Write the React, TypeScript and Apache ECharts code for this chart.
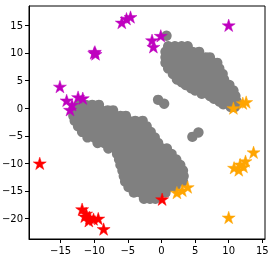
import React, { useEffect, useRef } from "react";
import * as echarts from "echarts";

// Gray embedding cloud (hand-read sample of the dense clusters)
const grayClusterA: [number, number][] = [
  [-12.3, 0.6], [-11.3, 0.6], [-10.3, 0.6], [-9.3, 0.6],
  [-13.0, -0.4], [-12.0, -0.4], [-11.0, -0.4], [-10.0, -0.4], [-9.0, -0.4], [-8.0, -0.4], [-7.2, -0.4],
  [-13.1, -1.4], [-12.1, -1.4], [-11.1, -1.4], [-10.1, -1.4], [-9.1, -1.4], [-8.1, -1.4], [-7.1, -1.4], [-6.1, -1.4], [-5.3, -1.4],
  [-12.9, -2.3], [-11.9, -2.3], [-10.9, -2.3], [-9.9, -2.3], [-8.9, -2.3], [-7.9, -2.3], [-6.9, -2.3], [-5.9, -2.3], [-4.9, -2.3], [-3.9, -2.3], [-2.8, -2.3],
  [-12.4, -3.3], [-11.4, -3.3], [-10.4, -3.3], [-9.4, -3.3], [-8.4, -3.3], [-7.4, -3.3], [-6.4, -3.3], [-5.4, -3.3], [-4.4, -3.3], [-3.4, -3.3], [-2.2, -3.3],
  [-11.8, -4.3], [-10.8, -4.3], [-9.8, -4.3], [-8.8, -4.3], [-7.8, -4.3], [-6.8, -4.3], [-5.8, -4.3], [-4.8, -4.3], [-3.8, -4.3], [-2.8, -4.3], [-1.6, -4.3],
  [-11.0, -5.3], [-10.0, -5.3], [-9.0, -5.3], [-8.0, -5.3], [-7.0, -5.3], [-6.0, -5.3], [-5.0, -5.3], [-4.0, -5.3], [-3.0, -5.3], [-2.0, -5.3], [-1.0, -5.3],
  [-9.5, -6.3], [-8.5, -6.3], [-7.5, -6.3], [-6.5, -6.3], [-5.5, -6.3], [-4.5, -6.3], [-3.5, -6.3], [-2.5, -6.3], [-1.5, -6.3], [-0.5, -6.3],
  [-7.9, -7.3], [-6.9, -7.3], [-5.9, -7.3], [-4.9, -7.3], [-3.9, -7.3], [-2.9, -7.3], [-1.9, -7.3], [-0.9, -7.3], [0.1, -7.3], [0.8, -7.3],
  [-6.6, -8.3], [-5.6, -8.3], [-4.6, -8.3], [-3.6, -8.3], [-2.6, -8.3], [-1.6, -8.3], [-0.6, -8.3], [0.4, -8.3], [1.5, -8.3],
  [-6.3, -9.3], [-5.3, -9.3], [-4.3, -9.3], [-3.3, -9.3], [-2.3, -9.3], [-1.3, -9.3], [-0.3, -9.3], [0.7, -9.3], [1.6, -9.3], [2.2, -9.3],
  [-6.1, -10.3], [-5.1, -10.3], [-4.1, -10.3], [-3.1, -10.3], [-2.1, -10.3], [-1.1, -10.3], [-0.1, -10.3], [0.9, -10.3], [1.9, -10.3], [2.8, -10.3],
  [-5.8, -11.3], [-4.8, -11.3], [-3.8, -11.3], [-2.8, -11.3], [-1.8, -11.3], [-0.8, -11.3], [0.2, -11.3], [1.2, -11.3], [2.2, -11.3], [3.2, -11.3],
  [-5.6, -12.3], [-4.6, -12.3], [-3.6, -12.3], [-2.6, -12.3], [-1.6, -12.3], [-0.6, -12.3], [0.4, -12.3], [1.4, -12.3], [2.4, -12.3], [3.3, -12.3],
  [-5.4, -13.3], [-4.4, -13.3], [-3.4, -13.3], [-2.4, -13.3], [-1.4, -13.3], [-0.4, -13.3], [0.6, -13.3], [1.6, -13.3], [2.6, -13.3], [3.2, -13.3],
  [-4.9, -14.3], [-3.9, -14.3], [-2.9, -14.3], [-1.9, -14.3], [-0.9, -14.3], [0.1, -14.3], [1.1, -14.3], [2.1, -14.3],
  [-4.1, -15.3], [-3.1, -15.3], [-2.1, -15.3], [-1.1, -15.3], [-0.1, -15.3], [0.6, -15.3],
  [-2.6, -16.4], [-1.7, -16.4], [-0.9, -16.4],
];

const grayClusterB: [number, number][] = [
  [0.75, 13.1],
  [1.0, 11.2], [2.0, 11.2], [3.0, 11.2], [3.9, 11.2],
  [0.6, 10.2], [1.6, 10.2], [2.6, 10.2], [3.6, 10.2], [4.6, 10.2], [5.6, 10.2],
  [0.6, 9.2], [1.6, 9.2], [2.6, 9.2], [3.6, 9.2], [4.6, 9.2], [5.6, 9.2], [6.6, 9.2], [7.2, 9.2],
  [0.6, 8.2], [1.6, 8.2], [2.6, 8.2], [3.6, 8.2], [4.6, 8.2], [5.6, 8.2], [6.6, 8.2], [7.6, 8.2], [8.3, 8.2],
  [1.0, 7.2], [2.0, 7.2], [3.0, 7.2], [4.0, 7.2], [5.0, 7.2], [6.0, 7.2], [7.0, 7.2], [8.0, 7.2], [8.6, 7.2],
  [1.7, 6.2], [2.7, 6.2], [3.7, 6.2], [4.7, 6.2], [5.7, 6.2], [6.7, 6.2], [7.7, 6.2], [8.7, 6.2], [9.1, 6.2],
  [2.3, 5.2], [3.3, 5.2], [4.3, 5.2], [5.3, 5.2], [6.3, 5.2], [7.3, 5.2], [8.3, 5.2], [9.3, 5.2],
  [3.0, 4.7], [3.6, 4.2], [4.6, 4.2], [5.6, 4.2], [6.6, 4.2], [7.6, 4.2], [8.6, 4.2], [9.6, 4.2], [10.1, 4.2],
  [4.4, 3.6], [5.0, 3.2], [6.0, 3.2], [7.0, 3.2], [8.0, 3.2], [9.0, 3.2], [10.0, 3.2], [10.7, 3.2],
  [6.0, 2.6], [7.2, 2.2], [8.2, 2.2], [9.2, 2.2], [10.2, 2.2], [11.0, 2.2],
  [7.8, 1.7], [8.6, 1.2], [9.6, 1.2], [10.6, 1.2], [11.2, 1.2],
  [9.2, 0.7], [10.3, 0.2], [10.9, 0.2],
];

const grayBlobs: [number, number][] = [
  [-0.5, 1.5], [0.4, 0.8],
  [4.6, -5.2], [5.5, -4.4],
];

const magentaStars: [number, number][] = [
  [-15.1, 3.9], [-14.1, 1.4], [-13.6, -0.3], [-13.3, 0.6], [-12.4, 2.0], [-11.7, 1.8],
  [-10.0, 10.0], [-9.8, 9.8], [-9.9, 10.2],
  [-5.9, 15.5], [-5.2, 16.2], [-4.6, 16.5],
  [-1.4, 12.3], [-0.1, 13.1], [-1.2, 11.1],
  [10.0, 15.0],
];

const redStars: [number, number][] = [
  [-18.1, -10.0],
  [-11.8, -18.3], [-11.2, -19.1], [-11.4, -19.6], [-10.7, -19.8], [-10.8, -20.4],
  [-10.1, -20.1], [-9.4, -20.0], [-8.6, -21.9],
  [0.1, -16.5],
];

const orangeStars: [number, number][] = [
  [2.3, -15.3], [3.1, -14.9], [3.9, -14.3],
  [10.0, -19.8],
  [13.7, -8.0], [10.8, -10.8], [11.5, -11.2], [11.7, -10.2], [12.2, -10.6], [12.5, -9.6],
  [10.7, 0.0], [12.1, 0.9], [12.6, 1.1],
];

const xRange = [-19.7, 15.4];
const yRange = [-23.7, 18.5];
const xTicks = [-15, -10, -5, 0, 5, 10, 15];
const yTicks = [-20, -15, -10, -5, 0, 5, 10, 15];

const STAR =
  "path://M0,-1L-0.2245,-0.309L-0.951,-0.309L-0.363,0.118L-0.588,0.809L0,0.382L0.588,0.809L0.363,0.118L0.951,-0.309L0.2245,-0.309Z";

const fmt = (v: number) => String(v).replace("-", "\u2212");

export default function App() {
  const ref = useRef<HTMLDivElement>(null);
  useEffect(() => {
    if (!ref.current) return;
    const chart = echarts.init(ref.current, null, { renderer: "svg" });
    const tick = (values: number[]) => ({
      show: true,
      inside: false,
      length: 4,
      customValues: values,
      lineStyle: { color: "#000", width: 1 },
    });
    const label = (values: number[]) => ({
      show: true,
      color: "#000",
      fontSize: 10,
      fontFamily: "DejaVu Sans",
      margin: 6,
      hideOverlap: false,
      customValues: values,
      formatter: fmt,
    });
    const starStyle = (color: string) => ({
      type: "scatter" as const,
      symbol: STAR,
      symbolSize: [13, 12.4],
      z: 5,
      emphasis: { disabled: true },
      itemStyle: { color, borderColor: color, borderWidth: 0.5, opacity: 1 },
    });
    chart.setOption({
      animation: false,
      grid: {
        left: 29,
        top: 6,
        width: 236,
        height: 233,
        containLabel: false,
        outerBoundsMode: "none",
        show: true,
        borderColor: "#000",
        borderWidth: 1,
        backgroundColor: "transparent",
      },
      xAxis: {
        type: "value",
        position: "bottom",
        min: xRange[0],
        max: xRange[1],
        z: 10,
        splitLine: { show: false },
        axisLine: { show: true, onZero: false, lineStyle: { color: "#000", width: 1 } },
        axisTick: tick(xTicks),
        axisLabel: label(xTicks),
      },
      yAxis: {
        type: "value",
        position: "left",
        min: yRange[0],
        max: yRange[1],
        z: 10,
        splitLine: { show: false },
        axisLine: { show: true, onZero: false, lineStyle: { color: "#000", width: 1 } },
        axisTick: tick(yTicks),
        axisLabel: label(yTicks),
      },
      series: [
        {
          type: "custom",
          z: 2,
          emphasis: { disabled: true },
          encode: { x: 0, y: 1 },
          renderItem: (_params: any, api: any) => {
            const p = api.coord([api.value(0), api.value(1)]);
            return {
              type: "circle",
              shape: { cx: p[0], cy: p[1], r: 5.2 },
              style: { fill: "#808080", stroke: "none", lineWidth: 0, opacity: 1 },
            };
          },
          data: [...grayClusterA, ...grayClusterB, ...grayBlobs],
        },
        { ...starStyle("#bf00bf"), data: magentaStars },
        { ...starStyle("#ff0000"), data: redStars },
        { ...starStyle("#ffa500"), data: orangeStars },
      ],
    });
    return () => chart.dispose();
  }, []);
  return (
    <div
      ref={ref}
      style={{ position: "fixed", left: 0, top: 0, width: 274, height: 260 }}
    />
  );
}
